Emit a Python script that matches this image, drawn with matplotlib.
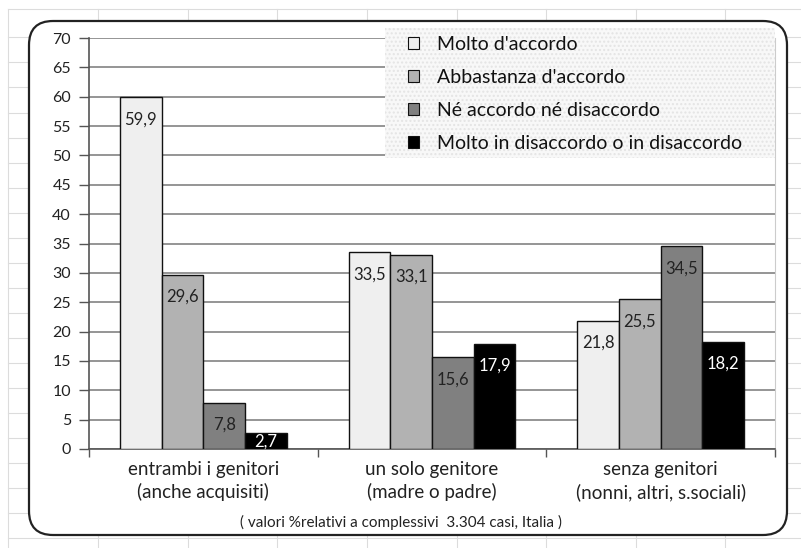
import matplotlib
matplotlib.use("Agg")
import matplotlib.pyplot as plt
from matplotlib.patches import FancyBboxPatch, Patch, Rectangle
from matplotlib.lines import Line2D
import numpy as np

plt.rcParams['font.family'] = ['Lato', 'DejaVu Sans']

categories = ["entrambi i genitori\n(anche acquisiti)",
              "un solo genitore\n(madre o padre)",
              "senza genitori\n(nonni, altri, s.sociali)"]
series_names = ["Molto d'accordo",
                "Abbastanza d'accordo",
                "Né accordo né disaccordo",
                "Molto in disaccordo o in disaccordo"]
molto = [59.9, 33.5, 21.8]
abbastanza = [29.6, 33.1, 25.5]
neutro = [7.8, 15.6, 34.5]
disaccordo = [2.7, 17.9, 18.2]
values = [molto, abbastanza, neutro, disaccordo]

colors = ['#efefef', '#b2b2b2', '#808080', '#000000']
label_colors = ['#222222', '#222222', '#222222', '#ffffff']

W, H = 801, 548
fig = plt.figure(figsize=(W / 100, H / 100), dpi=100)

# spreadsheet grid behind the chart
for gx in [8, 98, 188, 277, 367, 457, 546, 636, 725]:
    fig.add_artist(Line2D([gx / W, gx / W], [0, 1 - 9 / H], color='#dcdcdc', lw=0.8, zorder=0))
for gy in [9, 37, 62, 87, 113, 138, 163, 188, 213, 238, 263, 288, 313, 338, 363, 388, 413, 438, 463, 488, 513, 538]:
    fig.add_artist(Line2D([8 / W, 1], [1 - gy / H, 1 - gy / H], color='#dcdcdc', lw=0.8, zorder=0))

# rounded chart frame
box = FancyBboxPatch((29 / W, 1 - 535 / H), (787 - 29) / W, (535 - 21) / H,
                     boxstyle="round,pad=0,rounding_size=0.03",
                     transform=fig.transFigure, facecolor='white',
                     edgecolor='#222222', linewidth=1.6, zorder=1,
                     mutation_aspect=W / H)
fig.add_artist(box)

ax = fig.add_axes([89 / W, 1 - 449 / H, (775 - 89) / W, (449 - 38) / H])
ax.set_zorder(2)
ax.patch.set_alpha(0)

x = np.arange(len(categories))
w = 0.182
for i, (vals, c) in enumerate(zip(values, colors)):
    pos = x + (i - 1.5) * w
    ax.bar(pos, vals, width=w, color=c, edgecolor='#111111', linewidth=1.0, zorder=3,
           label=series_names[i])
    for px, v in zip(pos, vals):
        off = -10 if v > 5 else -0.5
        ax.annotate(f"{v:.1f}".replace('.', ','), xy=(px, v), xytext=(0, off),
                    textcoords='offset points', ha='center', va='top',
                    fontsize=12, color=label_colors[i], zorder=4)

ax.set_xlim(-0.5, 2.5)
ax.set_ylim(0, 70)
ax.set_yticks(np.arange(0, 71, 5))
ax.yaxis.grid(True, color='#8c8c8c', linewidth=1.3, zorder=1)
ax.set_axisbelow(True)
ax.tick_params(axis='y', length=7, width=1, color='#555555', labelsize=11.5, pad=6,
               labelcolor='#222222')
ax.set_xticks(x)
ax.set_xticklabels(categories, fontsize=13.5, linespacing=1.3, color='#222222')
ax.tick_params(axis='x', which='major', length=0, pad=9)
ax.set_xticks([-0.5, 0.5, 1.5, 2.5], minor=True)
ax.tick_params(axis='x', which='minor', length=6, width=1, color='#555555')
ax.spines['top'].set_visible(False)
ax.spines['right'].set_color('#cccccc')
ax.spines['left'].set_color('#555555')
ax.spines['bottom'].set_color('#555555')
ax.spines['left'].set_linewidth(1.2)
ax.spines['bottom'].set_linewidth(1.2)

# legend background (dotted) covering the top-right of the plot
bg = Rectangle((385 / W, 1 - 158 / H), (775 - 385) / W, (158 - 28) / H,
               transform=fig.transFigure, facecolor='#f8f8f8', edgecolor='#e4e4e4',
               linewidth=0, hatch='....', zorder=4)
fig.add_artist(bg)

handles = [Patch(facecolor=c, edgecolor='#111111', linewidth=0.8) for c in colors]
leg = fig.legend(handles, series_names, loc='upper left',
                 bbox_to_anchor=(408 / W, 1 - 36 / H),
                 fontsize=14, frameon=False,
                 handlelength=0.55, handleheight=0.55, handletextpad=0.95,
                 labelspacing=0.82, borderpad=0, borderaxespad=0)
leg.set_zorder(5)
for t in leg.get_texts():
    t.set_color('#111111')

fig.text(0.5, 1 - 522 / H, "( valori %relativi a complessivi  3.304 casi, Italia )",
         ha='center', va='center', fontsize=11, color='#222222')

fig.savefig("out.png", dpi=100)
